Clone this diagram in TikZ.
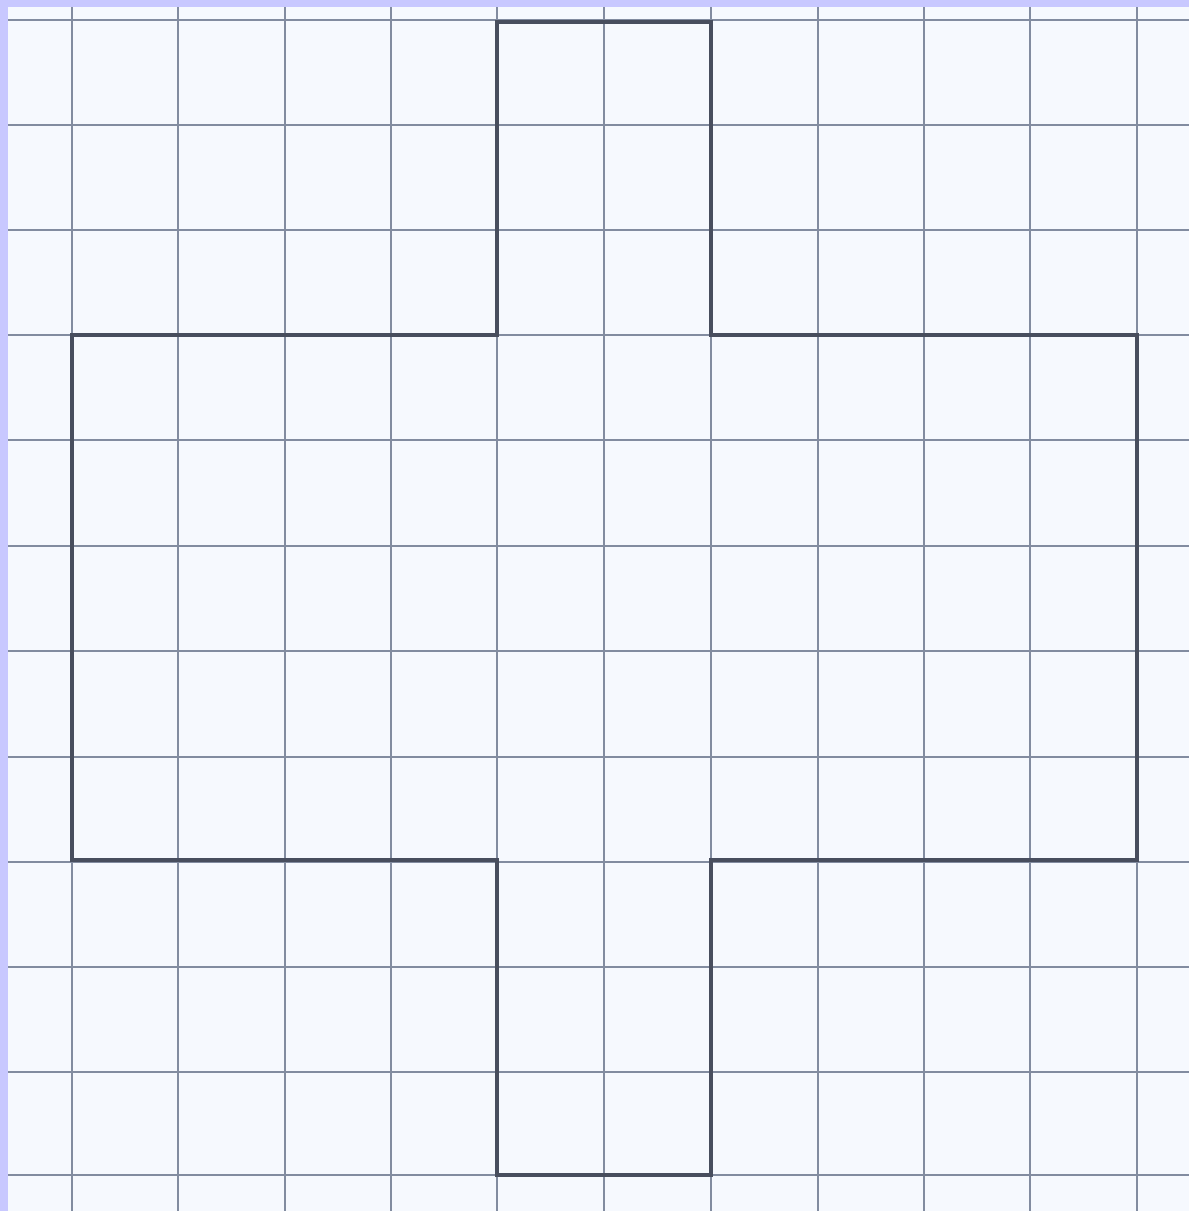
\documentclass[tikz,border=0pt]{standalone}
\definecolor{frame}{RGB}{200,200,255}
\definecolor{paper}{RGB}{246,249,254}
\definecolor{gridc}{RGB}{130,140,160}
\definecolor{outline}{RGB}{72,78,94}
\tikzset{
  gridline/.style={draw=gridc, line width=1.1pt},
  shapeline/.style={draw=outline, line width=3.5pt, line join=miter},
}
\begin{document}
\begin{tikzpicture}[x=1pt,y=-1pt]
\useasboundingbox (0,0) rectangle (1189,1211);
\fill[frame] (0,0) rectangle (1189,1211);
\fill[paper] (8,7) rectangle (1189,1211);
\foreach \x in {72,178,285,391,497,604,711,818,924,1030,1137}
  \draw[gridline] (\x,7) -- (\x,1211);
\foreach \y in {20,125,230,335,440,546,651,757,862,967,1072,1175}
  \draw[gridline] (8,\y) -- (1189,\y);
\draw[shapeline] (497,22) -- (711,22) -- (711,335) -- (1137,335) -- (1137,860)
  -- (711,860) -- (711,1175) -- (497,1175) -- (497,860) -- (72,860)
  -- (72,335) -- (497,335) -- cycle;
\end{tikzpicture}
\end{document}
